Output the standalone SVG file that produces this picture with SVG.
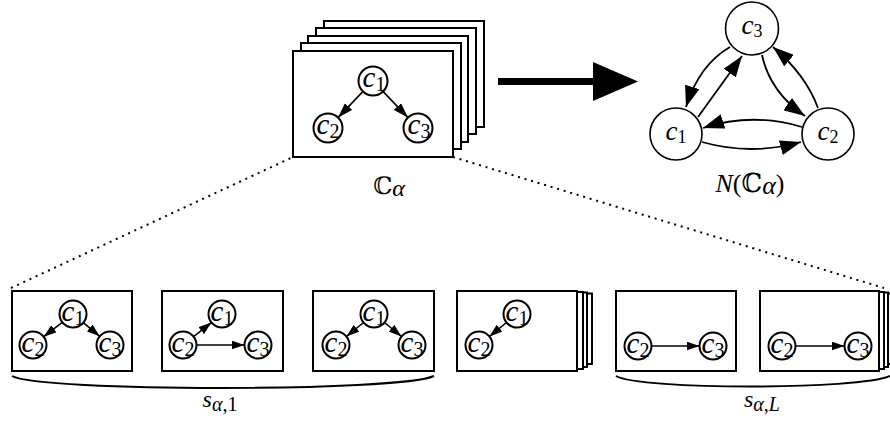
<svg xmlns="http://www.w3.org/2000/svg" width="890" height="434" viewBox="0 0 890 434">
  <style>
    .frame { fill: #fff; stroke: #000; stroke-width: 2; }
    .node { fill: #fff; stroke: #000; stroke-width: 2; }
    .nnode { fill: #fff; stroke: #000; stroke-width: 1.6; }
    .edge { fill: none; stroke: #000; stroke-width: 1.6; }
    .nedge { fill: none; stroke: #000; stroke-width: 1.8; }
    .dots { fill: none; stroke: #000; stroke-width: 2; stroke-dasharray: 2 4.8; }
    .brace { fill: none; stroke: #000; stroke-width: 2; }
    .lbl { font-family: "Liberation Serif", "DejaVu Serif", serif; font-size: 29px; fill: #000; text-anchor: middle; }
    .nlbl { font-family: "Liberation Serif", "DejaVu Serif", serif; font-size: 27px; fill: #000; text-anchor: middle; }
    .cap { font-family: "Liberation Serif", "DejaVu Serif", serif; font-size: 24px; fill: #000; text-anchor: middle; }
    .big { font-size: 26px; }
    .it { font-style: italic; }
    .sub { font-size: 20px; }
    .nsub { font-size: 18px; }
  </style>
  <defs>
    <marker id="ah" markerUnits="userSpaceOnUse" markerWidth="15" markerHeight="10" refX="15" refY="5" orient="auto">
      <path d="M0,0 L15,5 L0,10 z" fill="#000"/>
    </marker>
    <marker id="as" markerUnits="userSpaceOnUse" markerWidth="13" markerHeight="9" refX="13" refY="4.5" orient="auto">
      <path d="M0,0 L13,4.5 L0,9 z" fill="#000"/>
    </marker>
    <marker id="an" markerUnits="userSpaceOnUse" markerWidth="21" markerHeight="15" refX="21" refY="7.5" orient="auto">
      <path d="M0,0 L21,7.5 L0,15 z" fill="#000"/>
    </marker>
  </defs>

  <!-- dotted zoom lines from the stack to the sequence -->
  <g id="connectors">
    <path class="dots" d="M11,288 L293,157"/>
    <path class="dots" d="M453,157 L884,288"/>
  </g>

  <!-- stack of configurations C_alpha -->
  <g id="stack">
    <rect class="frame" x="324" y="21" width="160" height="106"/>
    <rect class="frame" x="316" y="28" width="160" height="106"/>
    <rect class="frame" x="308" y="36" width="160" height="106"/>
    <rect class="frame" x="301" y="43" width="160" height="106"/>
    <rect class="frame" x="293" y="51" width="160" height="106"/>
    <path class="edge" d="M362.8,91.6 L338.2,117.4" marker-end="url(#ah)"/>
    <path class="edge" d="M383.2,91.6 L407.8,117.4" marker-end="url(#ah)"/>
    <circle class="node" cx="373" cy="81" r="14.5"/>
    <circle class="node" cx="328" cy="128" r="14.5"/>
    <circle class="node" cx="418" cy="128" r="14.5"/>
    <text class="lbl" x="374" y="87"><tspan class="it">c</tspan><tspan class="sub" dy="4">1</tspan></text>
    <text class="lbl" x="328" y="134"><tspan class="it">c</tspan><tspan class="sub" dy="4">2</tspan></text>
    <text class="lbl" x="419" y="134"><tspan class="it">c</tspan><tspan class="sub" dy="4">3</tspan></text>
    <text class="cap" x="389" y="194">ℂ<tspan class="it" dy="2">α</tspan></text>
  </g>

  <!-- big arrow -->
  <g id="map-arrow">
    <rect x="498" y="78" width="96" height="7" fill="#000"/>
    <path d="M593,62 L638,81.5 L593,101 z" fill="#000"/>
  </g>

  <!-- network N(C_alpha) -->
  <g id="network-edges">
    <path class="nedge" d="M730,47 Q699,65 686,107" marker-end="url(#an)"/>
    <path class="nedge" d="M698,117 Q716,92 742,56" marker-end="url(#an)"/>
    <path class="nedge" d="M762,55 Q770,92 805,116" marker-end="url(#an)"/>
    <path class="nedge" d="M818,108 Q806,75 773,47" marker-end="url(#an)"/>
    <path class="nedge" d="M802,127 Q752,112 703,128" marker-end="url(#an)"/>
    <path class="nedge" d="M702,142 Q751,156 801,142" marker-end="url(#an)"/>
  </g>
  <g id="net-c3">
    <circle class="nnode" cx="752" cy="28.5" r="26.5"/>
    <text class="nlbl" x="752" y="34"><tspan class="it">c</tspan><tspan class="nsub" dy="3">3</tspan></text>
  </g>
  <g id="net-c1">
    <circle class="nnode" cx="676" cy="134" r="26"/>
    <text class="nlbl" x="676" y="140"><tspan class="it">c</tspan><tspan class="nsub" dy="3">1</tspan></text>
  </g>
  <g id="net-c2">
    <circle class="nnode" cx="828" cy="134" r="26"/>
    <text class="nlbl" x="828" y="140"><tspan class="it">c</tspan><tspan class="nsub" dy="3">2</tspan></text>
  </g>
  <text class="cap big" x="750" y="192"><tspan class="it">N</tspan>(ℂ<tspan class="it" dy="2">α</tspan><tspan dy="-2">)</tspan></text>

  <!-- sequence frame 1 -->
  <g id="seq-1">
    <rect class="frame" x="12" y="291" width="120" height="80"/>
    <path class="edge" d="M62.3,322.3 L43.7,336.7" marker-end="url(#as)"/>
    <path class="edge" d="M83.3,322.7 L99.7,336.3" marker-end="url(#as)"/>
    <circle class="node" cx="73" cy="314" r="13.5"/>
    <circle class="node" cx="33" cy="345" r="13.5"/>
    <circle class="node" cx="110" cy="345" r="13.5"/>
    <text class="lbl" x="73" y="321"><tspan class="it">c</tspan><tspan class="sub" dy="4">1</tspan></text>
    <text class="lbl" x="33" y="352"><tspan class="it">c</tspan><tspan class="sub" dy="4">2</tspan></text>
    <text class="lbl" x="110" y="352"><tspan class="it">c</tspan><tspan class="sub" dy="4">3</tspan></text>
  </g>

  <!-- sequence frame 2 -->
  <g id="seq-2">
    <rect class="frame" x="162" y="291" width="121" height="80"/>
    <path class="edge" d="M193.6,336.6 L211.4,322.6" marker-end="url(#as)"/>
    <path class="edge" d="M196.5,345 L244.5,345" marker-end="url(#as)"/>
    <circle class="node" cx="222" cy="314" r="13.5"/>
    <circle class="node" cx="183" cy="345" r="13.5"/>
    <circle class="node" cx="258" cy="345" r="13.5"/>
    <text class="lbl" x="222" y="321"><tspan class="it">c</tspan><tspan class="sub" dy="4">1</tspan></text>
    <text class="lbl" x="183" y="352"><tspan class="it">c</tspan><tspan class="sub" dy="4">2</tspan></text>
    <text class="lbl" x="258" y="352"><tspan class="it">c</tspan><tspan class="sub" dy="4">3</tspan></text>
  </g>

  <!-- sequence frame 3 -->
  <g id="seq-3">
    <rect class="frame" x="313" y="291" width="121" height="80"/>
    <path class="edge" d="M363.5,322.5 L346.5,336.5" marker-end="url(#as)"/>
    <path class="edge" d="M384.5,322.5 L401.5,336.5" marker-end="url(#as)"/>
    <circle class="node" cx="374" cy="314" r="13.5"/>
    <circle class="node" cx="336" cy="345" r="13.5"/>
    <circle class="node" cx="412" cy="345" r="13.5"/>
    <text class="lbl" x="374" y="321"><tspan class="it">c</tspan><tspan class="sub" dy="4">1</tspan></text>
    <text class="lbl" x="336" y="352"><tspan class="it">c</tspan><tspan class="sub" dy="4">2</tspan></text>
    <text class="lbl" x="412" y="352"><tspan class="it">c</tspan><tspan class="sub" dy="4">3</tspan></text>
  </g>

  <!-- sequence frame 4 (stacked) -->
  <g id="seq-4">
    <rect class="frame" x="472" y="293.5" width="120" height="70.5"/>
    <rect class="frame" x="467" y="292.5" width="120" height="74.5"/>
    <rect class="frame" x="463" y="292" width="120" height="77"/>
    <rect class="frame" x="457" y="291" width="120" height="80"/>
    <path class="edge" d="M506.5,322.5 L489.5,336.5" marker-end="url(#as)"/>
    <circle class="node" cx="517" cy="314" r="13.5"/>
    <circle class="node" cx="479" cy="345" r="13.5"/>
    <text class="lbl" x="517" y="321"><tspan class="it">c</tspan><tspan class="sub" dy="4">1</tspan></text>
    <text class="lbl" x="479" y="352"><tspan class="it">c</tspan><tspan class="sub" dy="4">2</tspan></text>
  </g>

  <!-- sequence frame 5 -->
  <g id="seq-5">
    <rect class="frame" x="616" y="291" width="120" height="80"/>
    <path class="edge" d="M651.5,346 L699.5,346" marker-end="url(#as)"/>
    <circle class="node" cx="638" cy="346" r="13.5"/>
    <circle class="node" cx="713" cy="346" r="13.5"/>
    <text class="lbl" x="638" y="353"><tspan class="it">c</tspan><tspan class="sub" dy="4">2</tspan></text>
    <text class="lbl" x="713" y="353"><tspan class="it">c</tspan><tspan class="sub" dy="4">3</tspan></text>
  </g>

  <!-- sequence frame 6 (stacked) -->
  <g id="seq-6">
    <rect class="frame" x="773" y="293.5" width="120" height="70.5"/>
    <rect class="frame" x="768" y="292.5" width="120" height="74.5"/>
    <rect class="frame" x="764" y="292" width="120" height="77"/>
    <rect class="frame" x="760" y="291" width="119" height="80"/>
    <path class="edge" d="M795.5,346 L844.5,346" marker-end="url(#as)"/>
    <circle class="node" cx="782" cy="346" r="13.5"/>
    <circle class="node" cx="858" cy="346" r="13.5"/>
    <text class="lbl" x="782" y="353"><tspan class="it">c</tspan><tspan class="sub" dy="4">2</tspan></text>
    <text class="lbl" x="858" y="353"><tspan class="it">c</tspan><tspan class="sub" dy="4">3</tspan></text>
  </g>

  <!-- under-braces and their labels -->
  <g id="brace-1">
    <path class="brace" d="M12,376 C40,392 400,392 434,376"/>
    <text class="cap" x="220" y="407"><tspan class="it">s</tspan><tspan class="sub" dy="4"><tspan class="it">α</tspan>,1</tspan></text>
  </g>
  <g id="brace-L">
    <path class="brace" d="M616,376 C640,390 860,390 890,376"/>
    <text class="cap" x="762" y="407"><tspan class="it">s</tspan><tspan class="sub" dy="4"><tspan class="it">α</tspan>,<tspan class="it">L</tspan></tspan></text>
  </g>
</svg>
